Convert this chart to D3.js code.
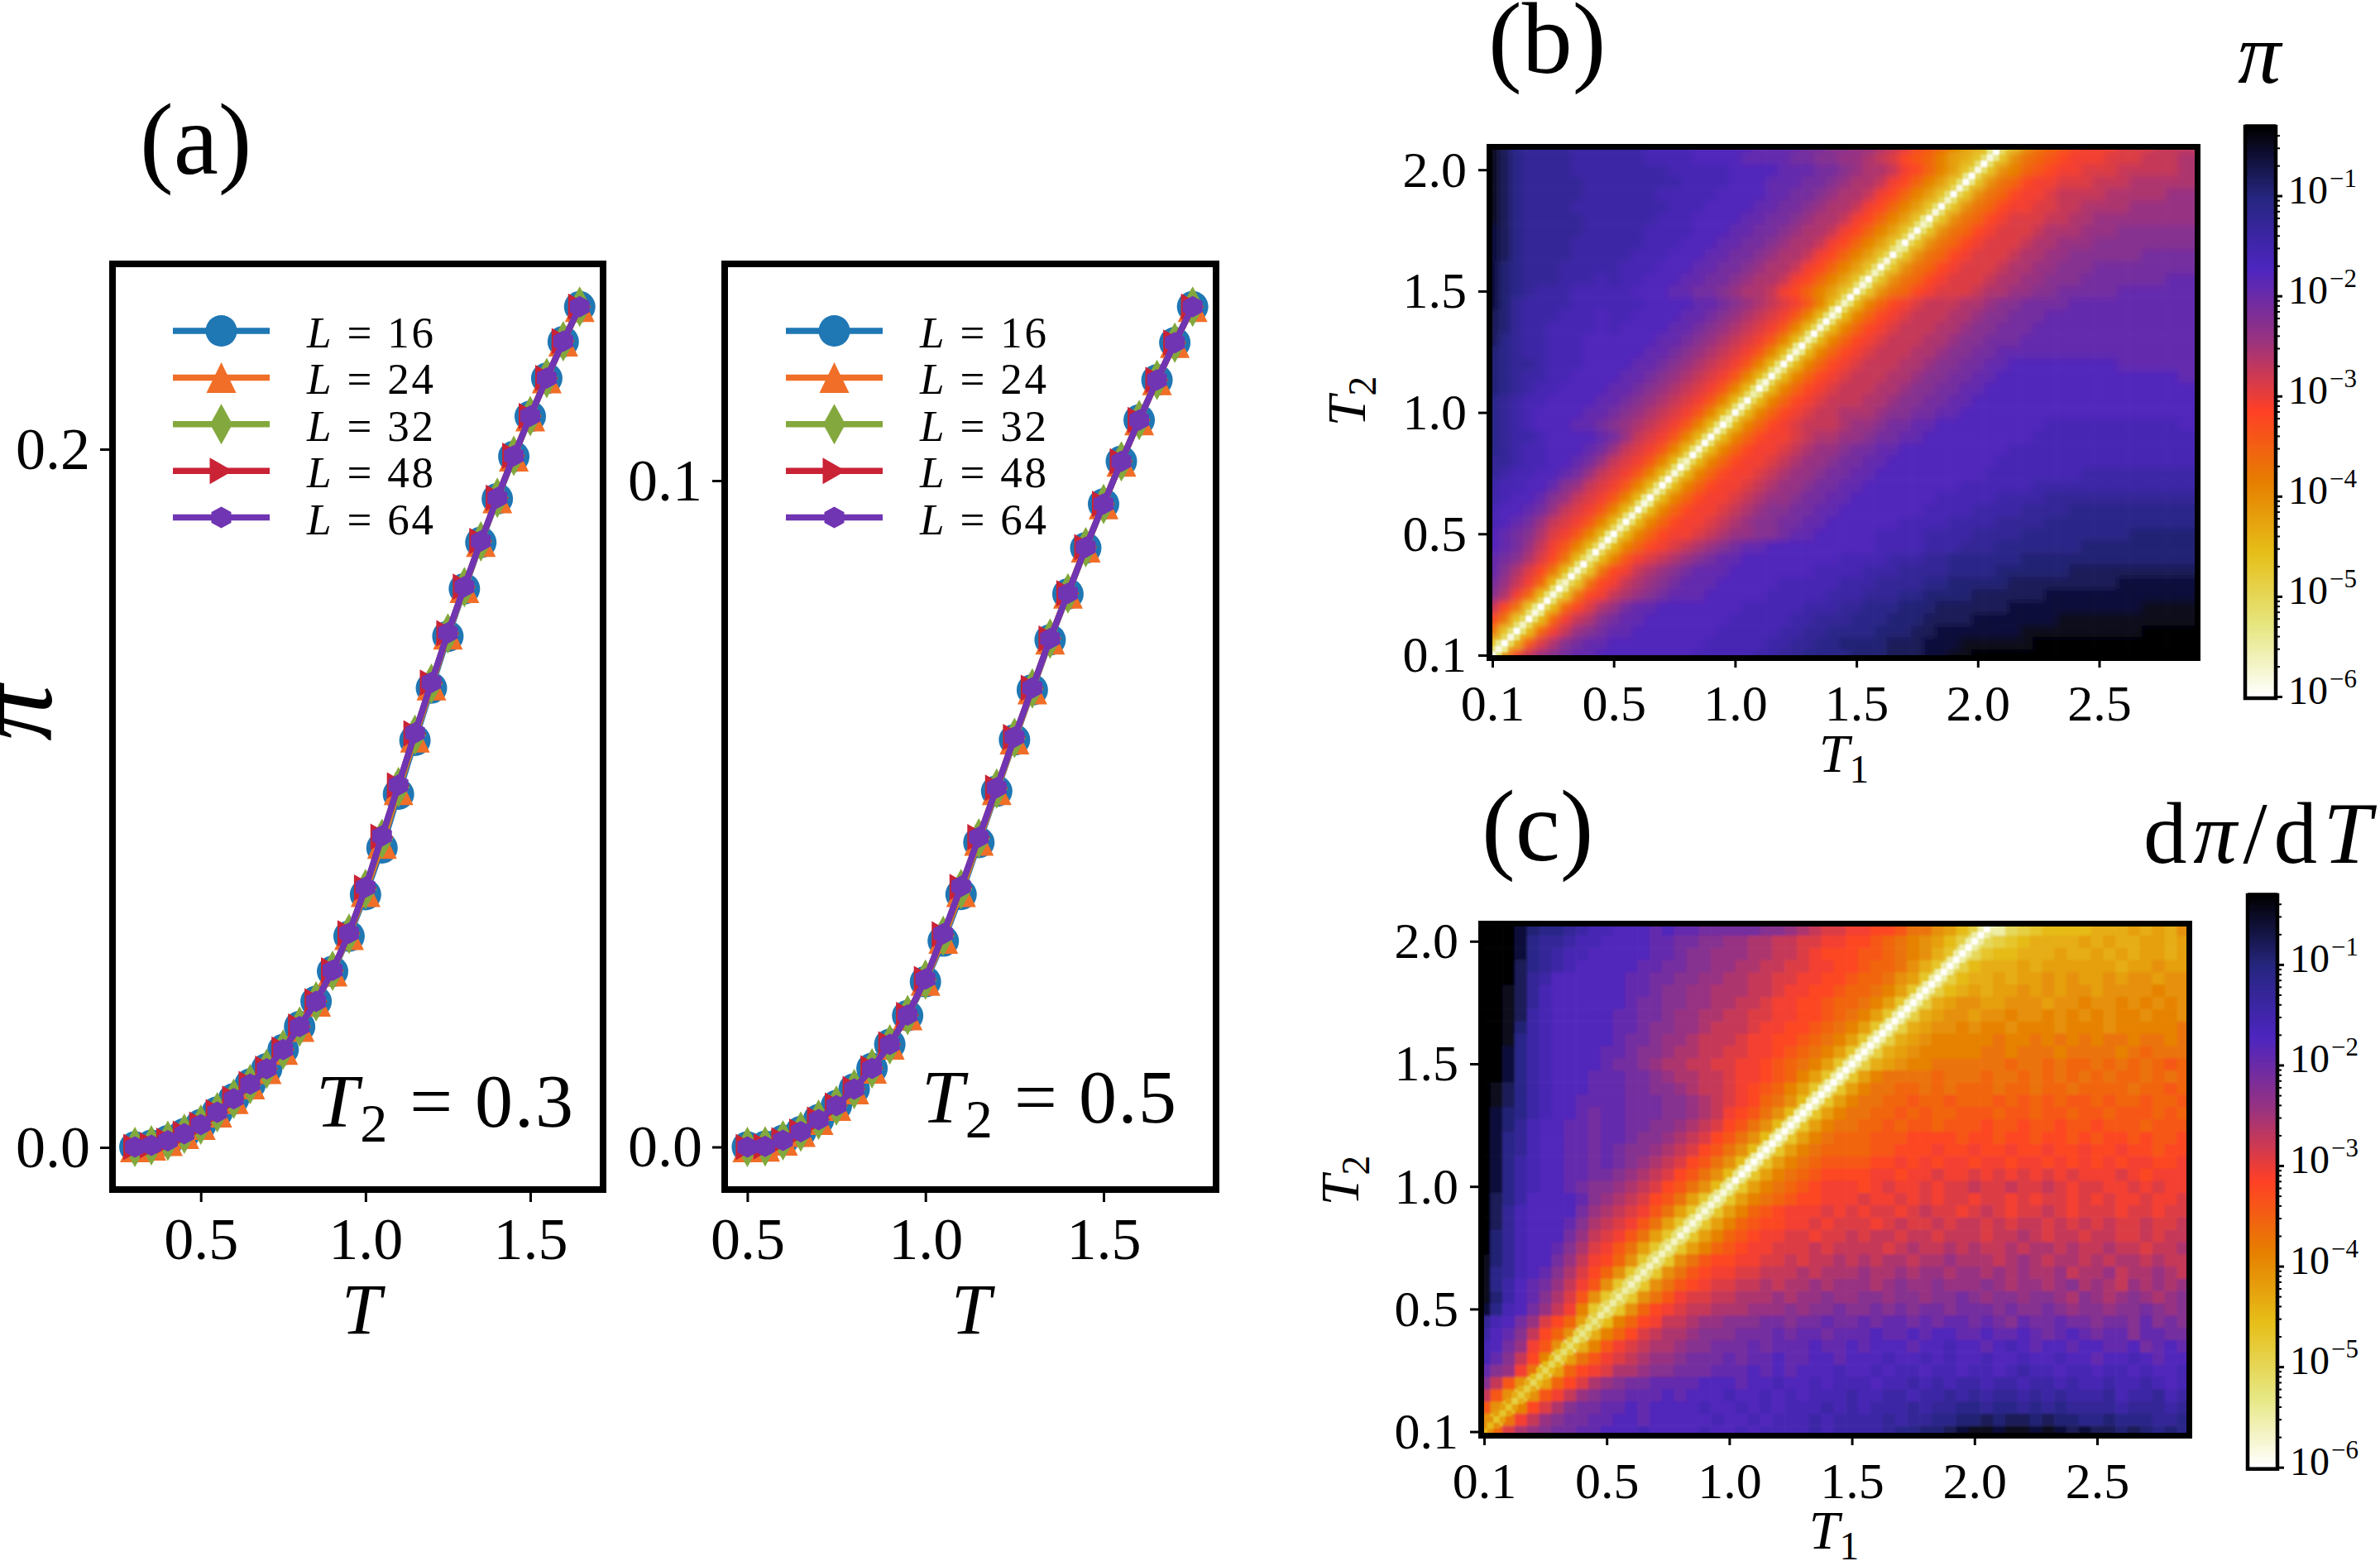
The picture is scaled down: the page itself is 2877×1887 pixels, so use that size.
<!DOCTYPE html>
<html>
<head>
<meta charset="utf-8">
<script src="https://cdn.jsdelivr.net/npm/d3@7"></script>
<style>
  body { margin: 0; background: #fff; }
  text { font-family: "Liberation Serif", serif; fill: #000; }
</style>
</head>
<body>
<svg id="fig" width="2877" height="1887"></svg>
<script>
// panel (a) values
var sizeLabels = ["16", "24", "32", "48", "64"];
var seriesColors = ["#1f77b4", "#f06e27", "#83a83d", "#c92335", "#7035b2"];
var markerNames = ["circle", "triUp", "thinDiamond", "triRight", "hexagon"];

var tempLeft = [0.3, 0.35, 0.4, 0.45, 0.5, 0.55, 0.6, 0.65, 0.7, 0.75, 0.8, 0.85, 0.9, 0.95, 1.0, 1.05, 1.1, 1.15, 1.2, 1.25, 1.3, 1.35, 1.4, 1.45, 1.5, 1.55, 1.6, 1.65];
var left16 = [.0001,.0006,.0019,.0039,.0065,.0101,.0139,.0181,.0225,.0280,.0346,.0418,.0504,.0605,.0724,.0858,.1012,.1166,.1316,.1464,.1600,.1733,.1858,.1979,.2094,.2203,.2308,.2408];
var left24 = [.0001,.0006,.0019,.0039,.0065,.0101,.0139,.0181,.0225,.0280,.0346,.0418,.0505,.0609,.0732,.0870,.1024,.1175,.1324,.1470,.1603,.1735,.1860,.1980,.2095,.2204,.2309,.2408];
var left32 = [.0001,.0006,.0019,.0039,.0065,.0101,.0139,.0181,.0225,.0280,.0346,.0418,.0506,.0612,.0740,.0884,.1032,.1182,.1328,.1472,.1605,.1736,.1861,.1981,.2095,.2204,.2309,.2408];
var left48 = [.0001,.0006,.0019,.0039,.0065,.0101,.0139,.0181,.0225,.0280,.0346,.0418,.0507,.0613,.0744,.0890,.1037,.1186,.1331,.1473,.1606,.1737,.1861,.1981,.2095,.2204,.2309,.2408];
var left64 = [.0001,.0006,.0019,.0039,.0065,.0101,.0139,.0181,.0225,.0280,.0346,.0418,.0507,.0614,.0745,.0892,.1038,.1187,.1332,.1474,.1606,.1737,.1861,.1981,.2095,.2204,.2309,.2408];

var tempRight = [0.5, 0.55, 0.6, 0.65, 0.7, 0.75, 0.8, 0.85, 0.9, 0.95, 1.0, 1.05, 1.1, 1.15, 1.2, 1.25, 1.3, 1.35, 1.4, 1.45, 1.5, 1.55, 1.6, 1.65, 1.7, 1.75];
var right16 = [.0000,.0001,.0010,.0023,.0041,.0062,.0087,.0118,.0154,.0197,.0248,.0309,.0379,.0457,.0534,.0611,.0686,.0761,.0830,.0899,.0965,.1029,.1091,.1151,.1207,.1261];
var right24 = [.0000,.0001,.0010,.0023,.0041,.0062,.0087,.0118,.0154,.0198,.0250,.0313,.0383,.0460,.0536,.0612,.0687,.0762,.0831,.0900,.0965,.1029,.1091,.1151,.1207,.1261];
var right32 = [.0000,.0001,.0010,.0023,.0041,.0062,.0087,.0118,.0154,.0198,.0251,.0317,.0387,.0463,.0538,.0614,.0688,.0763,.0831,.0900,.0965,.1029,.1091,.1151,.1207,.1261];
var right48 = [.0000,.0001,.0010,.0023,.0041,.0062,.0087,.0118,.0154,.0198,.0252,.0319,.0390,.0465,.0539,.0615,.0689,.0763,.0831,.0900,.0965,.1029,.1091,.1151,.1207,.1261];
var right64 = [.0000,.0001,.0010,.0023,.0041,.0062,.0087,.0118,.0154,.0198,.0252,.0320,.0391,.0465,.0539,.0615,.0689,.0763,.0831,.0900,.0965,.1029,.1091,.1151,.1207,.1261];

// heatmap ticks
var heatTickLabels = ["0.1", "0.5", "1.0", "1.5", "2.0", "2.5"];
var heatXTicks = [0, 10, 20, 30, 40, 50];
var heatYTicks = [0, 10, 20, 30, 40];

// CMRmap_r, white end first
var cmrColors = ["#ffffff", "#e6e680", "#e6bf1a", "#e68000", "#ff4026", "#993380", "#4d26bf", "#262680", "#000000"];

// heatmap cells, read by eye on a grid twice as coarse as the original.
// One base-36 digit per cell = position along the colour map (0 white .. z black).
// First string is the bottom row T2 = 0.1, groups of ten columns.
var heatB = [
"7cikmnoppq qqqqqqqrrr rrssttuuuu vvvwwwxxyy zzzzzzzzzz zzzzzzzz",
"87agjlnopp qqqqqqqqrr rrrssttuuv vvvwwwxxxy yyyyyzzzzz zzzzzzzz",
"e879fikmno ppqqqqqqqr rrrrssttuu uuvvvwwxxx xxxxyyyyyy yyyyzzzz",
"he879fikln oppqqqqqqq rrrrrssttt uuuvvvwwww xxxxxxxyyy yyyyyyyy",
"khe879fhjl moppqqqqqq qrrrrrssst tuuuvvvwww wwwxxxxxxx xxxxyyyy",
"nlif978ehi klmnopppqq qqqrrrrrss stttuuvvvv wwwwwwxxxx xxxxxxxx",
"omkif978eh iklmnopppq qqqqrrrrrs ssttttuuvv vvvwwwwwww wwxxxxxx",
"pnljhe978e hiklmnoppp qqqqqqqrrr rsssttttuu uuvvvvvvww wwwwwwww",
"ponljhe979 dgijklmnop pqqqqqqqqr rrrsssttuu uuuuvvvvvv vvvvvvvv",
"qpomkigd97 9dfhijklmn oppqqqqqqq qqrrrrssst ttuuuuuuuv vvvvvvvv",
"qponljigd9 79dfhiijkl mmnnoppqqq qqrrrrssss ttttuuuuuu uuuvvvvv",
"rqpomkjigd 979dfhiijk lmnnooppqq qqqqrrrrss ssttttuuuu uuuuuuuu",
"rqqpomkjig d979dfhiij klmnnooppq qqqqqqrrrr ssssttttuu uuuuuuuu",
"srqqpnmkji gd979dfhii jklmmnoopp qqqqqqqrrr rrsssstttt tttttttt",
"srrqqpnmkj igd979dfhi ijklmmnoop pqqqqqqqqr rrrrrsssss ssssssss",
"tsrrqqpomk jigd979dfh iijklmmnoo ppqqqqqqqq qrrrrrrrrs ssssssss",
"ttsrrqqpom kjigd979df hiijklmmno oppqqqqqqq qqrrrrrrrr rrrrrrrr",
"utsrrqqqpo mkjigd979d fhiijklmmn ooppqqqqqq qqqrrrrrrr rrrrrrrr",
"utssrqqqqp omkjigd979 dfhiijkllm mnooppqqqq qqqqqrrrrr rrrrrrrr",
"utsrqqqppo nmlkjigd97 9dfhijkkkl mmnooppqqq qqqqqqrrrr rrrrrrrq",
"utsrqqqqpp onmlkjigd9 79dfhijkkl llmnnooppq qqqqqqqqqq qqqqqqqq",
"utsrrqqqqp ponmlkjigd 979dfhijkk kllmnnoopp qqqqqqqqqq qqqqqqqq",
"vutsrrqqqq pponmlkjig d979dfhijk kkllmnnoop pqqqqqqqqq qqqqqqqq",
"vutssrrqqq qpponmlkji gd979dfhij kkkllmnnoo ppqqqqqqqq qqqqqqqp",
"vuttsrrrqq qqpponmlkj igd979dfhi jkkkllmnno oppqqqqqqq qqpppppp",
"vutssrrrqq qqqpponmlk jigd979dfh ijkkkllmnn oopppppppp pppppppp",
"wutssrrrqq qqqqpponml kjigd979df hijkkkllmn nooopppppp pppppppp",
"wvtssrrrrq rqqqqpponm lkjigd979d fhijkkkllm nnoooppppp pppppppp",
"wvtsssrrrq rrqqqqppon mlkjigd979 dfhijkkkll mnnooopppp pppppppp",
"xvtssssrrr rrrqqqqppo nmlkjigd97 9dfhijkkkl lmnnoooopp pppppppp",
"xvutsssrrr rrqqqppoon mllkihfdb8 78cefhijjj kllmmnnooo oopppppp",
"xvutttsssr srrqqqppoo nmllkihfdb 878cefhijj jkllmmnnno oooooopp",
"xvutttssss srrrqqqppo onmllkihfd b878cefhij jjkllmmnnn oooooooo",
"xwuttttsss ssrrrqqqpp oonmllkihf db878cefhi jjjkllmmnn nnnnoooo",
"xwuttttsss sssrrrqqqp poonmllkih fdb878cefh ijjjkllmmm nnnnnnnn",
"xwutttttss sssrrrrqqq ppoonmllki hfdb878cef hijjjklllm mmnnnnnn",
"ywutttttss ssssrrrqqq qppoonmllk ihfdb878ce fhijjjkkll mmmmmmmm",
"ywuttttsss sssssrrrqq qqppoonmll kihfdb878c efhiijjkkl lllmmmmm",
"ywutttttss ssssrrrrrq qqqppoonml lkihfdb878 cefhiijkkk klllllmm",
"ywutttttss ssssssrrrr qqqpppoonm llkihfdb87 8cefhiijjj kkklllll",
"ywuttttsss sssssrrrrr qqqqpppoon mllkihfdb8 78cdfghiij jjkkkkkl",
"ywuttttsss sssrrrrqqq qppppoonnm mlkjhgfdba 878cefghii ijjjkkkl",
"ywuttttsss sssrrrrqqq qqppppoonn mmlkjhgfdb a878cefghi iijjjkkk"
];

var heatC = [
"9fjlmnoopp qqqrqqqqrq qrqrrrrsrs ssstuuvvwx yyxyyxyxwx wwvwvuvu",
"c8eikmnoop pqqpqqqqqr qqrqrrrsrs ssststtuuv vwvwwvwvvu uvuuuttu",
"gc8dhjlnoo ppqpqqqqrq qrqrqrrrsr srssststtu utuutututt ttstttst",
"kgc7cgikmn oopppqpqqq rqqrqrqrrr srrssrssts tsttststss strsstrs",
"nkgc6bfhjl mnooppppqq qpqqrqqrqr rrqrrsrsrs srssrssrsr rsrrsrqr",
"pnmie5bfhi jllmnnooop ppqpqpqqqr qqrqrrqrrq rrqrsrrqrr qrrqrqqr",
"rpnkhd5beg ijklmmnooo poppqppqqp qqqrqqrqrq qrqqrqqrqq pqqrqpqq",
"rqomigc4ad gijkllmnno oopopppqpp qpqqqpqqrq qpqrqpqqpq qppqopqp",
"sqpnkhfc4a dfhjkllmnn nooopoppop ppqppqpqqp pqppqpopqp oppnppoo",
"trqomjhfb4 9dfhikklmm nnnoonoopo opoppopopp oponpoopoo noonpnon",
"xurqomkid8 48cfhijkkl llmmmnmnno nnononoono oononnonmn nmnnonmn",
"yvsqpnljgc 848cegijjk klllmlmmnm mnnmnnmnno nmnnmnnmln mlmnmlmn",
"yusqpomkig c848ceghij jkklkllmlm mmlmnmmnmm mnmlmmlmnl mlkmlmlm",
"yutrqpnljh fc848ceghi ijjkkklkll lmllmlmmlm mlmlmllmkl lmkllmlk",
"yvtrqqomki hfc848cegh hiijjkjkkl klkllkllml llklmlkllk lkllklkk",
"zvtrqqpnlj igeb848bdf ghiijjjkjk kkkjklkklk lkklkllklk klkkjkkl",
"zvtrqqqomk jigeb848bd fghiijjijj kjkkjkkjkk kjkklkjkkj kkjjkjkk",
"zwtrqqqpnl kjigeb848b dfghhiijij jjijkjjkjk kjkjkkjkjk jkjjkjjk",
"zwtrqqqqom lkjigeb848 bdfghiiiji jijjijkjji jkjijjkjij jjijjijj",
"zwusqqqqpn mlkjhgeb84 8bdefghhii ijiijijijj ijjijijjij ijiijiij",
"zxusrqqpon nmlkjhgec9 58bdefghii ihijiijijj kjjkjjkjij jiijijii",
"zxusrqqppo onmlkjhgec 958bdefghh hhiihiijii jijijijiji iijihiii",
"zxusrqqppo ponmlkjhge c958bdefgg gghhihihii hiihiihihi hihiihhi",
"zxutrqqppo ponnmlkjhg ec958bdeff ffgghhhihh ihhihhihhi hhihhghh",
"zxutrqqppo pponnmlkjh gec958bdef ffggghhhhg hhghhghhgh ghhghggh",
"zxvtrqqppo ppoonnmlkj hgec958bde effgfggfgg ghgghgghgg hgggfggg",
"zxvusrqqpo ppooonnmlk ihgec958bd eeffgfgffg ggfggfggfg gfgggfgf",
"zywusrqqpp ppooonnmlk jihfec958b deeffgffgf ffgfgfgfgg fgffgffg",
"zywusrqqqp ppoonnmlkk jihgfdb858 bdeeffefef ffeffeffef fffeffgf",
"zzxusrqqqp ppoonmllkk jiihgfdb85 8bdeeeefee efeefefefe feffefef",
"zzxusrqqqq poonmllkkj jiihgfedb8 57abcddeee eeefeefeff efefefgf",
"zzxusrqqqq pponnmllkk jjiihgfedb 857abcdddd deedeeedee eedefeee",
"zzyusrqqqq qpoonmmlkk kjiihhgfed b857abcddd ddeddedede deedeede",
"zzyvsrqqqq qpponnmmlk kkjiihhgfe db857abccd cddcdddcdd dcddddde",
"zzywsrqqqq qppoonmmll kkjjiihhgf edb857abcc bccdccdcdc dcddcddc",
"zzywtrqqqq qqpoonnmml lkkjiihhgf fedb857abc cbbcccbccd ccdcdcdc",
"zzywtrqqqq qqpponnmml llkkjiihhg ffedb8579a babbcbcbcc bccccdcc",
"zzzwtsqqqq qqppoonnmm llkkjjiihh gffecb8579 aababbcbcb bcbccbcc",
"zzzwutsrqq qqqppoonnm mllkkjjiih hgffeca857 9aaababbbb bbabbcbb",
"zzzxutsrrq qqqqpponnm mmllkkjihh hggfedca84 6899aaabaa bababbab",
"zzzxuttsrr qqqqppoonn mmllkkjjii hhgfedcb97 46789aaaab abaabbab",
"zzzxvuutsr rqqqpqppoo ooonnmlkjj iihhgeecb9 7436789999 aaababac"
];

// the thin ridge on the diagonal, at the original cell size
var ridgeCoreB = "0101020100 1020103010 0201010200 1020100102 0103010200 1020101020 0102010301 0201020100 10100";
var ridgeSideB = "5465565465 5465565654 6556546556 5465656546 5565465565 4656554656 5465565465 5465656546 55465";
var ridgeCoreC = "9988877766 6655544443 3333222222 2211111111 1000000000 0000000000 0000000000 0000000000 0000";
var ridgeSideC = "ccbbbaaa99 9988877776 6665555555 5544444444 4433333333 3333333333 3333333333 3333333333 3333";

var svg = d3.select("#fig");
var defs = svg.append("defs");
defs.append("filter").attr("id", "softenb")
  .append("feGaussianBlur").attr("stdDeviation", 4);
defs.append("filter").attr("id", "softenc")
  .append("feGaussianBlur").attr("stdDeviation", 1.8);
defs.append("filter").attr("id", "softenRidge")
  .attr("x", "-2%").attr("y", "-2%").attr("width", "104%").attr("height", "104%")
  .append("feGaussianBlur").attr("stdDeviation", 0.9);

// CMRmap_r over 0..1
var cmap = d3.scaleLinear()
  .domain(d3.range(9).map(function (i) { return i / 8; }))
  .range(cmrColors);

function levels(str) {
  return str.replace(/ /g, "").split("").map(function (ch) { return parseInt(ch, 36); });
}

// Put a run of math text: parts are [string, italic, sub]
function mathText(sel, parts, x, y, size, length, anchor) {
  var t = sel.append("text").attr("x", x).attr("y", y)
    .style("font-size", size + "px")
    .style("text-anchor", anchor || "start");
  if (length) t.attr("textLength", length).attr("lengthAdjust", "spacing");
  var wasSub = false;
  parts.forEach(function (p) {
    var s = t.append("tspan").text(p[0]);
    if (p[1]) s.style("font-style", "italic");
    if (p[2]) {
      s.style("font-size", size * 0.72 + "px").attr("dy", size * 0.2);
      wasSub = true;
    } else if (wasSub) {
      s.attr("dy", -size * 0.2);
      wasSub = false;
    }
  });
  return t;
}

function markerPath(name) {
  var p = d3.path();
  var pts;
  if (name === "circle") {
    p.arc(0, 0, 19, 0, 2 * Math.PI);
    return p.toString();
  } else if (name === "triUp") {
    pts = [[0, -18.5], [18, 18.5], [-18, 18.5]];
  } else if (name === "thinDiamond") {
    pts = [[0, -24.5], [13.5, 0], [0, 24.5], [-13.5, 0]];
  } else if (name === "triRight") {
    pts = [[14, 0], [-14, 16], [-14, -16]];
  } else {
    pts = [[0, -13], [12, -6.5], [12, 6.5], [0, 13], [-12, 6.5], [-12, -6.5]];
  }
  p.moveTo(pts[0][0], pts[0][1]);
  pts.slice(1).forEach(function (q) { p.lineTo(q[0], q[1]); });
  p.closePath();
  return p.toString();
}

function styleAxis(g, size) {
  g.select(".domain").remove();
  g.selectAll(".tick line").attr("stroke", "#000").attr("stroke-width", 3);
  g.selectAll(".tick text").style("font-size", size + "px")
    .style("font-family", '"Liberation Serif", serif').attr("fill", "#000");
}

// one of the two line panels
function drawLines(o) {
  var g = svg.append("g");
  var x = d3.scaleLinear().domain([0.5, 1.5]).range(o.xRange);
  var y = d3.scaleLinear().domain([0, o.yMax]).range(o.yRange);
  var line = d3.line()
    .x(function (d) { return x(d[0]); })
    .y(function (d) { return y(d[1]); });

  o.series.forEach(function (vals, k) {
    var pts = d3.zip(o.temps, vals);
    g.append("path").datum(pts)
      .attr("d", line).attr("fill", "none")
      .attr("stroke", seriesColors[k]).attr("stroke-width", 7.5);
    g.selectAll(".m" + k).data(pts).enter().append("path")
      .attr("class", "m" + k)
      .attr("d", markerPath(markerNames[k]))
      .attr("fill", seriesColors[k])
      .attr("transform", function (d) { return "translate(" + x(d[0]) + "," + y(d[1]) + ")"; });
  });

  // legend
  sizeLabels.forEach(function (lab, k) {
    var ly = 400 + k * 56.4;
    g.append("line").attr("x1", o.legendX).attr("x2", o.legendX + 117)
      .attr("y1", ly).attr("y2", ly)
      .attr("stroke", seriesColors[k]).attr("stroke-width", 7.5);
    g.append("path").attr("d", markerPath(markerNames[k]))
      .attr("fill", seriesColors[k])
      .attr("transform", "translate(" + (o.legendX + 58.5) + "," + ly + ")");
    mathText(g, [["L", true], [" = " + lab, false]], o.legendX + 162, ly + 20, 53, 153);
  });

  g.append("rect").attr("x", o.box[0] + 4).attr("y", o.box[1] + 4)
    .attr("width", o.box[2] - o.box[0] - 8).attr("height", o.box[3] - o.box[1] - 8)
    .attr("fill", "none").attr("stroke", "#000").attr("stroke-width", 8);

  var ax = g.append("g").attr("transform", "translate(0," + o.box[3] + ")")
    .call(d3.axisBottom(x).tickValues([0.5, 1, 1.5]).tickSize(11).tickPadding(18)
      .tickFormat(d3.format(".1f")));
  styleAxis(ax, 72);
  var ay = g.append("g").attr("transform", "translate(" + o.box[0] + ",0)")
    .call(d3.axisLeft(y).tickValues(o.yTicks).tickSize(11).tickPadding(12)
      .tickFormat(d3.format(".1f")));
  styleAxis(ay, 72);

  mathText(g, [["T", true]], o.xLabelX, 1612, 86, null, "middle");
  mathText(g, [["T", true], ["2", false, true], [" = " + o.tag, false]], o.tagX, o.tagY, 92, o.tagLen);
}

// one of the two heatmaps with its colour bar
function drawHeat(o) {
  var g = svg.append("g");
  var x = d3.scaleLinear().domain([0, 10]).range([o.x0, o.x0 + o.tick]);
  var y = d3.scaleLinear().domain([0, 10]).range([o.y0, o.y0 - o.tick]);
  var cell = o.tick / 10;

  var cells = [];
  o.rows.forEach(function (row, r) {
    levels(row).forEach(function (lev, c) {
      cells.push({ c: c, r: r, level: lev });
    });
  });
  var maxC = d3.max(cells, function (d) { return d.c; });
  var maxR = d3.max(cells, function (d) { return d.r; });

  var clipId = o.id + "clip";
  defs.append("clipPath").attr("id", clipId).append("rect")
    .attr("x", o.box[0]).attr("y", o.box[1])
    .attr("width", o.box[2] - o.box[0]).attr("height", o.box[3] - o.box[1]);

  var clipped = g.append("g").attr("clip-path", "url(#" + clipId + ")");
  // edge cells run on past the frame so the softening does not fade there
  clipped.append("g").attr("filter", "url(#soften" + o.id + ")")
    .selectAll("rect").data(cells).enter().append("rect")
    .attr("x", function (d) { return x(d.c) - cell / 2 - (d.c === 0 ? cell : 0); })
    .attr("y", function (d) { return y(d.r) - cell / 2 - (d.r === maxR ? 2 * cell : 0); })
    .attr("width", function (d) { return cell + 0.6 + (d.c === 0 ? cell : 0) + (d.c === maxC ? 2 * cell : 0); })
    .attr("height", function (d) { return cell + 0.6 + (d.r === 0 ? cell : 0) + (d.r === maxR ? 2 * cell : 0); })
    .attr("fill", function (d) { return cmap(d.level / 35); });

  // ridge cells sit at half index steps
  var ridge = [];
  levels(o.ridgeSide).forEach(function (lev, i) {
    ridge.push({ cx: (i + 1) / 2, cy: i / 2, level: lev });
    ridge.push({ cx: i / 2, cy: (i + 1) / 2, level: lev });
  });
  levels(o.ridgeCore).forEach(function (lev, i) {
    ridge.push({ cx: i / 2, cy: i / 2, level: lev });
  });
  clipped.append("g").attr("filter", "url(#softenRidge)")
    .selectAll("rect").data(ridge).enter().append("rect")
    .attr("x", function (d) { return x(d.cx) - cell / 4; })
    .attr("y", function (d) { return y(d.cy) - cell / 4; })
    .attr("width", cell / 2 + 0.3).attr("height", cell / 2 + 0.3)
    .attr("fill", function (d) { return cmap(d.level / 35); });

  g.append("rect").attr("x", o.box[0] + 3.5).attr("y", o.box[1] + 3.5)
    .attr("width", o.box[2] - o.box[0] - 7).attr("height", o.box[3] - o.box[1] - 7)
    .attr("fill", "none").attr("stroke", "#000").attr("stroke-width", 7);

  var ax = g.append("g").attr("transform", "translate(0," + o.box[3] + ")")
    .call(d3.axisBottom(x).tickValues(heatXTicks).tickSize(8).tickPadding(20)
      .tickFormat(function (d, i) { return heatTickLabels[i]; }));
  styleAxis(ax, 62);
  var ay = g.append("g").attr("transform", "translate(" + o.box[0] + ",0)")
    .call(d3.axisLeft(y).tickValues(heatYTicks).tickSize(10).tickPadding(14)
      .tickFormat(function (d, i) { return heatTickLabels[i]; }));
  styleAxis(ay, 62);

  mathText(g, [["T", true], ["1", false, true]], o.t1X, o.t1Y, 66, null, "middle");
  var t2 = g.append("g").attr("transform", "translate(" + o.t2X + "," + o.t2Y + ") rotate(-90)");
  mathText(t2, [["T", true], ["2", false, true]], 0, 0, 66, null, "middle");

  // colour bar
  var cb = g.append("g");
  var logVals = d3.range(0, 1.0001, 1 / 255);
  var yc = d3.scaleLog().domain([1e-6, o.vmax]).range(o.barRange);
  var barH = (o.barRange[0] - o.barRange[1]) / 255;
  cb.selectAll("rect").data(logVals).enter().append("rect")
    .attr("x", o.barX[0]).attr("width", o.barX[1] - o.barX[0])
    .attr("y", function (d) { return o.barRange[0] - d * (o.barRange[0] - o.barRange[1]) - barH; })
    .attr("height", barH + 1)
    .attr("fill", function (d) { return cmap(d); });
  cb.append("rect").attr("x", o.barX[0]).attr("y", o.barRange[1])
    .attr("width", o.barX[1] - o.barX[0]).attr("height", o.barRange[0] - o.barRange[1] + 2)
    .attr("fill", "none").attr("stroke", "#000").attr("stroke-width", 4.5);

  var majors = [1e-6, 1e-5, 1e-4, 1e-3, 1e-2, 1e-1];
  var minors = [];
  majors.forEach(function (m) {
    d3.range(2, 10).forEach(function (k) { if (m * k < o.vmax) minors.push(m * k); });
  });
  var bigAxis = cb.append("g").attr("transform", "translate(" + o.barX[1] + ",0)")
    .call(d3.axisRight(yc).tickValues(majors).tickSize(8).tickFormat(""));
  styleAxis(bigAxis, 10);
  var smallAxis = cb.append("g").attr("transform", "translate(" + o.barX[1] + ",0)")
    .call(d3.axisRight(yc).tickValues(minors).tickSize(5).tickFormat(""));
  styleAxis(smallAxis, 10);
  smallAxis.selectAll(".tick line").attr("stroke-width", 2);

  majors.forEach(function (m) {
    var t = cb.append("text").attr("x", o.barX[1] + 15).attr("y", yc(m) + 9)
      .style("font-size", "48px").text("10");
    t.append("tspan").attr("dy", -20).attr("dx", 2).style("font-size", "31px")
      .text("\u2212" + Math.round(-Math.log10(m)));
  });
}

drawLines({
  temps: tempLeft,
  series: [left16, left24, left32, left48, left64],
  xRange: [242.7, 641], yMax: 0.2, yRange: [1387, 543], yTicks: [0, 0.2],
  box: [132, 315, 733, 1442], legendX: 209, xLabelX: 437,
  tag: "0.3", tagX: 382, tagY: 1362, tagLen: 311
});
drawLines({
  temps: tempRight,
  series: [right16, right24, right32, right48, right64],
  xRange: [903.4, 1334], yMax: 0.1, yRange: [1386.5, 581], yTicks: [0, 0.1],
  box: [872, 315, 1474, 1442], legendX: 950, xLabelX: 1174,
  tag: "0.5", tagX: 1114, tagY: 1357, tagLen: 308
});

drawHeat({
  id: "b", rows: heatB, ridgeCore: ridgeCoreB, ridgeSide: ridgeSideB,
  x0: 1804, y0: 792, tick: 146.7,
  box: [1797, 174, 2660, 799],
  t1X: 2229, t1Y: 933, t2X: 1650, t2Y: 485,
  barX: [2714, 2751], barRange: [842, 153], vmax: 0.49
});
drawHeat({
  id: "c", rows: heatC, ridgeCore: ridgeCoreC, ridgeSide: ridgeSideC,
  x0: 1794, y0: 1730.6, tick: 148.2,
  box: [1787, 1113, 2650, 1739],
  t1X: 2217, t1Y: 1872, t2X: 1642, t2Y: 1427,
  barX: [2717, 2753], barRange: [1773.7, 1082], vmax: 0.49
});

// panel letters and big labels
mathText(svg, [["(a)", false]], 169, 210, 122);
mathText(svg, [["(b)", false]], 1799, 88, 122);
mathText(svg, [["(c)", false]], 1791, 1040, 122);
mathText(svg, [["\u03c0", true]], 2705, 100, 104);
mathText(svg, [["d", false], ["\u03c0", true], ["/d", false], ["T", true]], 2591, 1043, 105, 276);
var piLab = svg.append("g").attr("transform", "translate(62,862) rotate(-90)");
mathText(piLab, [["\u03c0", true]], 0, 0, 135, null, "middle");
</script>
</body>
</html>
